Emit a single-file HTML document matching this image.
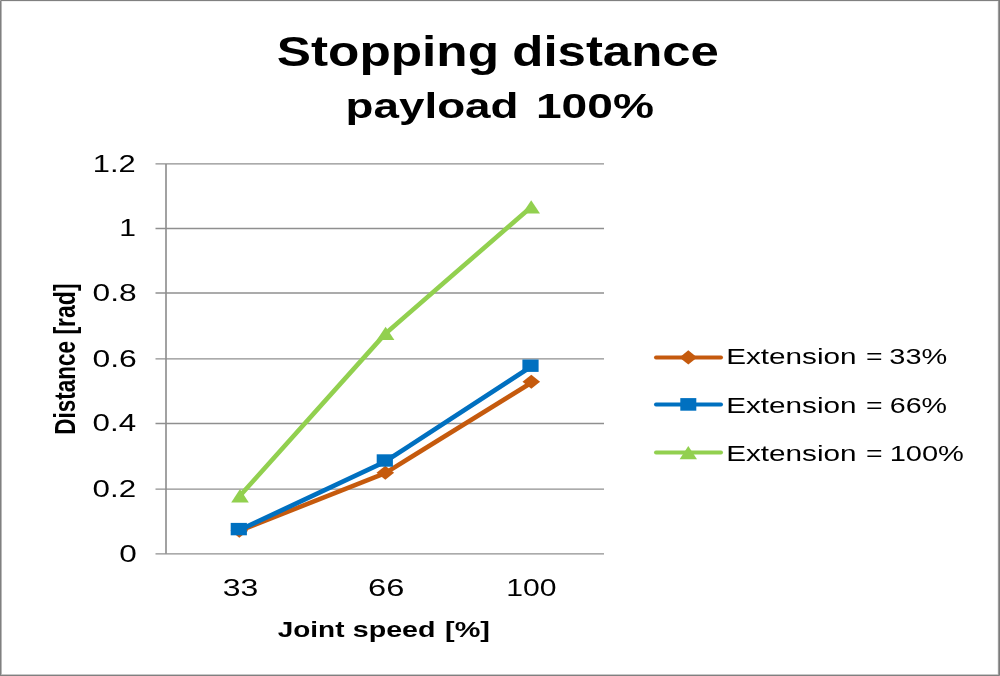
<!DOCTYPE html>
<html lang="en">
<head>
<meta charset="utf-8">
<title>Stopping distance payload 100%</title>
<style>
html,body{margin:0;padding:0;background:#fff;}
body{width:1000px;height:676px;overflow:hidden;position:relative;font-family:"Liberation Sans",sans-serif;}
</style>
</head>
<body>
<svg width="1000" height="676" viewBox="0 0 1000 676" style="position:absolute;left:0;top:0;display:block">
<rect x="0" y="0" width="1000" height="676" fill="#ffffff"/>
<defs><filter id="soft" x="-2%" y="-2%" width="104%" height="104%"><feGaussianBlur stdDeviation="0.5"/></filter></defs>
<g filter="url(#soft)">
<line x1="155.5" y1="163.9" x2="604.0" y2="163.9" stroke="#8f8f8f" stroke-width="1.4"/>
<line x1="155.5" y1="228.45" x2="604.0" y2="228.45" stroke="#8f8f8f" stroke-width="1.4"/>
<line x1="155.5" y1="292.95" x2="604.0" y2="292.95" stroke="#8f8f8f" stroke-width="1.4"/>
<line x1="155.5" y1="358.9" x2="604.0" y2="358.9" stroke="#8f8f8f" stroke-width="1.4"/>
<line x1="155.5" y1="423.45" x2="604.0" y2="423.45" stroke="#8f8f8f" stroke-width="1.4"/>
<line x1="155.5" y1="489.1" x2="604.0" y2="489.1" stroke="#8f8f8f" stroke-width="1.4"/>
<line x1="155.5" y1="553.85" x2="604.0" y2="553.85" stroke="#8f8f8f" stroke-width="1.4"/>
<line x1="166.0" y1="163.9" x2="166.0" y2="553.85" stroke="#8f8f8f" stroke-width="1.65"/>
<polyline points="239.3,530.8 385.3,473.1 531.3,382.8" fill="none" stroke="#C55A11" stroke-width="4.6" stroke-linejoin="round" stroke-linecap="round"/>
<polygon points="230.5,530.8 239.3,523.8 248.10000000000002,530.8 239.3,537.8" fill="#C55A11"/>
<polygon points="376.5,472.8 385.3,465.8 394.1,472.8 385.3,479.8" fill="#C55A11"/>
<polygon points="522.5,381.8 531.3,374.8 540.0999999999999,381.8 531.3,388.8" fill="#C55A11"/>
<polyline points="238.8,530.4 384.8,461.8 530.5,367.0" fill="none" stroke="#0070C0" stroke-width="4.6" stroke-linejoin="round" stroke-linecap="round"/>
<rect x="230.70000000000002" y="522.9" width="16.2" height="12.4" fill="#0070C0"/>
<rect x="376.7" y="454.3" width="16.2" height="12.4" fill="#0070C0"/>
<rect x="522.4" y="359.5" width="16.2" height="12.4" fill="#0070C0"/>
<polyline points="240.0,495.7 385.6,333.4 531.2,206.9" fill="none" stroke="#92D050" stroke-width="4.6" stroke-linejoin="round" stroke-linecap="round"/>
<polygon points="231.2,502.4 240.0,489.0 248.8,502.4" fill="#92D050"/>
<polygon points="376.8,340.09999999999997 385.6,326.7 394.40000000000003,340.09999999999997" fill="#92D050"/>
<polygon points="522.4000000000001,213.6 531.2,200.20000000000002 540.0,213.6" fill="#92D050"/>
<line x1="656" y1="357.4" x2="721" y2="357.4" stroke="#C55A11" stroke-width="4" stroke-linecap="round"/>
<line x1="656" y1="404.4" x2="721" y2="404.4" stroke="#0070C0" stroke-width="4" stroke-linecap="round"/>
<line x1="656" y1="452.6" x2="721" y2="452.6" stroke="#92D050" stroke-width="4" stroke-linecap="round"/>
<polygon points="679.5,357.4 688.3,350.29999999999995 697.0999999999999,357.4 688.3,364.5" fill="#C55A11"/>
<rect x="680.3" y="398.09999999999997" width="16.0" height="12.6" fill="#0070C0"/>
<polygon points="679.5999999999999,459.3 688.3,445.90000000000003 697.0,459.3" fill="#92D050"/>
<text x="276.76" y="66.00" font-size="41.9" font-family="'Liberation Sans', sans-serif" font-weight="bold" fill="#000" textLength="222.23" lengthAdjust="spacingAndGlyphs">Stopping</text>
<text x="512.30" y="66.00" font-size="41.9" font-family="'Liberation Sans', sans-serif" font-weight="bold" fill="#000" textLength="206.65" lengthAdjust="spacingAndGlyphs">distance</text>
<text x="345.53" y="118.00" font-size="35.34" font-family="'Liberation Sans', sans-serif" font-weight="bold" fill="#000" textLength="173.04" lengthAdjust="spacingAndGlyphs">payload</text>
<text x="535.98" y="118.30" font-size="35.34" font-family="'Liberation Sans', sans-serif" font-weight="bold" fill="#000" textLength="117.91" lengthAdjust="spacingAndGlyphs">100%</text>
<text x="222.73" y="596.30" font-size="23.04" font-family="'Liberation Sans', sans-serif" fill="#000" textLength="35.50" lengthAdjust="spacingAndGlyphs">33</text>
<text x="368.11" y="596.30" font-size="23.04" font-family="'Liberation Sans', sans-serif" fill="#000" textLength="36.29" lengthAdjust="spacingAndGlyphs">66</text>
<text x="506.16" y="596.30" font-size="23.04" font-family="'Liberation Sans', sans-serif" fill="#000" textLength="50.26" lengthAdjust="spacingAndGlyphs">100</text>
<text x="277.76" y="636.50" font-size="22.63" font-family="'Liberation Sans', sans-serif" font-weight="bold" fill="#000" textLength="66.68" lengthAdjust="spacingAndGlyphs">Joint</text>
<text x="352.77" y="636.50" font-size="22.63" font-family="'Liberation Sans', sans-serif" font-weight="bold" fill="#000" textLength="82.68" lengthAdjust="spacingAndGlyphs">speed</text>
<text x="445.07" y="636.50" font-size="22.63" font-family="'Liberation Sans', sans-serif" font-weight="bold" fill="#000" textLength="44.91" lengthAdjust="spacingAndGlyphs">[%]</text>
<text x="726.19" y="364.40" font-size="22.63" font-family="'Liberation Sans', sans-serif" fill="#000" textLength="130.40" lengthAdjust="spacingAndGlyphs">Extension</text>
<text x="865.93" y="364.40" font-size="22.63" font-family="'Liberation Sans', sans-serif" fill="#000" textLength="16.57" lengthAdjust="spacingAndGlyphs">=</text>
<text x="889.32" y="364.40" font-size="22.63" font-family="'Liberation Sans', sans-serif" fill="#000" textLength="57.86" lengthAdjust="spacingAndGlyphs">33%</text>
<text x="726.19" y="412.60" font-size="22.63" font-family="'Liberation Sans', sans-serif" fill="#000" textLength="130.40" lengthAdjust="spacingAndGlyphs">Extension</text>
<text x="865.93" y="412.60" font-size="22.63" font-family="'Liberation Sans', sans-serif" fill="#000" textLength="16.57" lengthAdjust="spacingAndGlyphs">=</text>
<text x="889.77" y="412.60" font-size="22.63" font-family="'Liberation Sans', sans-serif" fill="#000" textLength="57.27" lengthAdjust="spacingAndGlyphs">66%</text>
<text x="726.19" y="460.60" font-size="22.63" font-family="'Liberation Sans', sans-serif" fill="#000" textLength="130.40" lengthAdjust="spacingAndGlyphs">Extension</text>
<text x="865.93" y="460.60" font-size="22.63" font-family="'Liberation Sans', sans-serif" fill="#000" textLength="16.57" lengthAdjust="spacingAndGlyphs">=</text>
<text x="889.66" y="460.60" font-size="22.63" font-family="'Liberation Sans', sans-serif" fill="#000" textLength="74.29" lengthAdjust="spacingAndGlyphs">100%</text>
<text transform="translate(75.15,433.5) rotate(-90)" x="-1.28" y="0" font-size="29.33" font-family="'Liberation Sans', sans-serif" font-weight="bold" fill="#000" textLength="93.71" lengthAdjust="spacingAndGlyphs">Distance</text>
<text transform="translate(75.15,333.1) rotate(-90)" x="-1.45" y="0" font-size="29.33" font-family="'Liberation Sans', sans-serif" font-weight="bold" fill="#000" textLength="51.09" lengthAdjust="spacingAndGlyphs">[rad]</text>
<text x="92.85" y="171.90" font-size="23.04" font-family="'Liberation Sans', sans-serif" fill="#000" textLength="42.88" lengthAdjust="spacingAndGlyphs">1.2</text>
<text x="119.17" y="236.45" font-size="23.04" font-family="'Liberation Sans', sans-serif" fill="#000" textLength="16.70" lengthAdjust="spacingAndGlyphs">1</text>
<text x="92.51" y="300.95" font-size="23.04" font-family="'Liberation Sans', sans-serif" fill="#000" textLength="44.10" lengthAdjust="spacingAndGlyphs">0.8</text>
<text x="92.46" y="366.90" font-size="23.04" font-family="'Liberation Sans', sans-serif" fill="#000" textLength="44.34" lengthAdjust="spacingAndGlyphs">0.6</text>
<text x="92.59" y="431.45" font-size="23.04" font-family="'Liberation Sans', sans-serif" fill="#000" textLength="43.54" lengthAdjust="spacingAndGlyphs">0.4</text>
<text x="92.55" y="497.10" font-size="23.04" font-family="'Liberation Sans', sans-serif" fill="#000" textLength="43.54" lengthAdjust="spacingAndGlyphs">0.2</text>
<text x="119.27" y="561.85" font-size="23.04" font-family="'Liberation Sans', sans-serif" fill="#000" textLength="17.53" lengthAdjust="spacingAndGlyphs">0</text>
</g>
<rect x="0" y="0" width="1000" height="1" fill="#808080" shape-rendering="crispEdges"/>
<rect x="0" y="1" width="1000" height="1" fill="#f0f0f0" shape-rendering="crispEdges"/>
<rect x="0" y="675" width="1000" height="1" fill="#808080" shape-rendering="crispEdges"/>
<rect x="0" y="674" width="1000" height="1" fill="#c8c8c8" shape-rendering="crispEdges"/>
<rect x="0" y="0" width="1" height="676" fill="#808080" shape-rendering="crispEdges"/>
<rect x="1" y="1" width="1" height="674" fill="#b8b8b8" shape-rendering="crispEdges"/>
<rect x="999" y="0" width="1" height="676" fill="#7b7b7b" shape-rendering="crispEdges"/>
<rect x="998" y="1" width="1" height="674" fill="#9c9c9c" shape-rendering="crispEdges"/>
<rect x="997" y="2" width="1" height="672" fill="#f0f0f0" shape-rendering="crispEdges"/>
<rect x="0" y="0" width="1" height="1" fill="#a6a6a6" shape-rendering="crispEdges"/>
<rect x="999" y="675" width="1" height="1" fill="#909090" shape-rendering="crispEdges"/>
</svg>
</body>
</html>
